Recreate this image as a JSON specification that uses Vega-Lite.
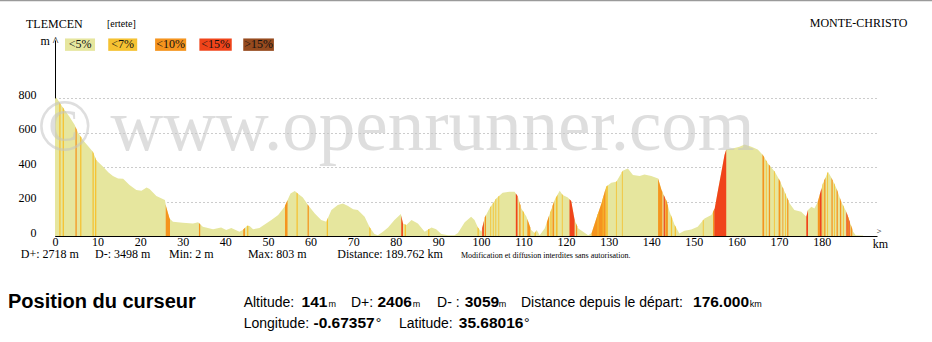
{
"$schema":"https://vega.github.io/schema/vega-lite/v6.json",
"autosize":{"type":"none"},
"padding":{"left":55,"top":40,"right":55,"bottom":106},
"width":822,"height":196,
"config":{"view":{"stroke":null},"font":"Liberation Serif"},
"encoding":{
  "x":{"field":"d","type":"quantitative","scale":{"domain":[0,193],"nice":false,"zero":false},
   "axis":{"values":[0,10,20,30,40,50,60,70,80,90,100,110,120,130,140,150,160,170,180],"title":null,"grid":false,"ticks":false,"domainColor":"#000","domainWidth":1,"labelFont":"Liberation Serif","labelFontSize":12,"labelColor":"#000","labelPadding":0,"labelFlush":false,"labelOverlap":false,"format":"d"}},
  "y":{"field":"e","type":"quantitative","stack":null,"scale":{"domain":[0,1137],"nice":false},
   "axis":{"values":[0,200,400,600,800],"title":"m ^","titleAngle":0,"titleAlign":"left","titleBaseline":"alphabetic","titleX":-15,"titleY":4,"titleFont":"Liberation Serif","titleFontSize":12,"titleFontWeight":"normal","titleColor":"#000","grid":true,"gridDash":[1,3],"gridColor":"#999","gridOpacity":1,"ticks":false,"domainColor":"#000","labelFont":"Liberation Serif","labelFontSize":12,"labelColor":"#000","labelPadding":19,"labelBaseline":"alphabetic","labelFlush":false,"format":"d"}}
},
"datasets":{
"profile":[{"d":0,"e":795},{"d":0.3,"e":803},{"d":1.1,"e":773},{"d":2.3,"e":730},{"d":3.4,"e":692},{"d":4.6,"e":645},{"d":5.4,"e":600},{"d":6.6,"e":556},{"d":7.8,"e":520},{"d":8.9,"e":489},{"d":9.7,"e":440},{"d":11.3,"e":402},{"d":12.5,"e":370},{"d":13.6,"e":348},{"d":14.8,"e":334},{"d":16.0,"e":332},{"d":17.5,"e":296},{"d":19.1,"e":267},{"d":20.3,"e":263},{"d":21.5,"e":282},{"d":22.2,"e":272},{"d":23.8,"e":232},{"d":25.8,"e":209},{"d":26.1,"e":170},{"d":26.9,"e":102},{"d":27.7,"e":83},{"d":30.0,"e":77},{"d":32.4,"e":73},{"d":33.6,"e":80},{"d":34.7,"e":54},{"d":37.1,"e":39},{"d":39.0,"e":50},{"d":40.2,"e":35},{"d":41.4,"e":46},{"d":43.3,"e":25},{"d":44.1,"e":35},{"d":45.1,"e":60},{"d":45.7,"e":58},{"d":46.5,"e":39},{"d":48.0,"e":46},{"d":50.8,"e":93},{"d":52.4,"e":122},{"d":53.9,"e":170},{"d":54.5,"e":203},{"d":55.3,"e":247},{"d":56.3,"e":261},{"d":57.0,"e":246},{"d":58.2,"e":224},{"d":59.4,"e":180},{"d":61.0,"e":131},{"d":62.5,"e":93},{"d":63.7,"e":83},{"d":64.9,"e":151},{"d":66.4,"e":180},{"d":67.6,"e":189},{"d":68.8,"e":174},{"d":70.0,"e":155},{"d":71.1,"e":151},{"d":72.7,"e":112},{"d":73.9,"e":50},{"d":75.0,"e":12},{"d":75.8,"e":5},{"d":77.0,"e":25},{"d":78.2,"e":50},{"d":79.7,"e":93},{"d":81.2,"e":128},{"d":81.7,"e":73},{"d":82.5,"e":64},{"d":83.7,"e":93},{"d":85.2,"e":73},{"d":86.8,"e":25},{"d":88.4,"e":50},{"d":89.5,"e":39},{"d":90.7,"e":12},{"d":92.3,"e":5},{"d":93.8,"e":5},{"d":94.6,"e":17},{"d":96.2,"e":80},{"d":97.7,"e":112},{"d":98.5,"e":93},{"d":99.3,"e":50},{"d":100.1,"e":25},{"d":100.9,"e":108},{"d":102.0,"e":160},{"d":103.6,"e":218},{"d":105.1,"e":251},{"d":106.7,"e":257},{"d":107.9,"e":257},{"d":108.7,"e":228},{"d":109.5,"e":160},{"d":110.7,"e":112},{"d":111.8,"e":35},{"d":112.6,"e":17},{"d":113.1,"e":35},{"d":113.8,"e":5},{"d":115.0,"e":45},{"d":116.2,"e":131},{"d":117.3,"e":209},{"d":118.5,"e":263},{"d":119.2,"e":238},{"d":120.4,"e":224},{"d":121.2,"e":203},{"d":122.0,"e":93},{"d":122.8,"e":45},{"d":124.0,"e":25},{"d":125.2,"e":5},{"d":126.0,"e":17},{"d":127.1,"e":102},{"d":128.3,"e":189},{"d":129.4,"e":286},{"d":130.6,"e":309},{"d":131.8,"e":315},{"d":133.3,"e":379},{"d":134.5,"e":392},{"d":135.7,"e":354},{"d":137.3,"e":348},{"d":138.4,"e":357},{"d":140.0,"e":348},{"d":141.6,"e":334},{"d":142.4,"e":267},{"d":143.6,"e":203},{"d":144.3,"e":141},{"d":145.5,"e":64},{"d":146.6,"e":15},{"d":147.8,"e":31},{"d":149.4,"e":37},{"d":150.9,"e":54},{"d":152.5,"e":102},{"d":154.1,"e":122},{"d":154.9,"e":160},{"d":155.6,"e":257},{"d":156.4,"e":363},{"d":157.2,"e":470},{"d":157.6,"e":502},{"d":159.1,"e":508},{"d":160.7,"e":518},{"d":161.9,"e":531},{"d":163.5,"e":518},{"d":165.0,"e":502},{"d":166.2,"e":470},{"d":167.4,"e":421},{"d":169.0,"e":373},{"d":170.1,"e":325},{"d":171.3,"e":257},{"d":172.5,"e":189},{"d":173.6,"e":151},{"d":175.2,"e":141},{"d":176.4,"e":112},{"d":176.8,"e":151},{"d":177.6,"e":170},{"d":178.3,"e":160},{"d":179.1,"e":199},{"d":180.3,"e":305},{"d":181.5,"e":373},{"d":182.3,"e":338},{"d":183.5,"e":276},{"d":184.6,"e":199},{"d":185.8,"e":141},{"d":186.6,"e":83},{"d":187.4,"e":25},{"d":188.0,"e":5},{"d":189.76,"e":3}],
"steep":[
{"s":1,"c":"<7%","d":1.0,"e":777},{"s":1,"c":"<7%","d":1.3,"e":766},
{"s":2,"c":"<7%","d":1.8,"e":748},{"s":2,"c":"<7%","d":2.1,"e":737},
{"s":3,"c":"<10%","d":4.8,"e":634},{"s":3,"c":"<10%","d":5.1,"e":617},
{"s":4,"c":"<7%","d":5.9,"e":582},{"s":4,"c":"<7%","d":6.2,"e":571},
{"s":5,"c":"<7%","d":8.8,"e":492},{"s":5,"c":"<7%","d":8.9,"e":489},{"s":5,"c":"<7%","d":9.1,"e":477},
{"s":6,"c":"<7%","d":9.4,"e":458},{"s":6,"c":"<7%","d":9.7,"e":440},
{"s":7,"c":"<10%","d":26.0,"e":183},{"s":7,"c":"<10%","d":26.1,"e":170},{"s":7,"c":"<10%","d":26.9,"e":102},{"s":7,"c":"<10%","d":27.0,"e":100},
{"s":8,"c":"<10%","d":33.8,"e":75},{"s":8,"c":"<10%","d":34.1,"e":68},
{"s":9,"c":"<10%","d":44.2,"e":38},{"s":9,"c":"<10%","d":44.6,"e":48},
{"s":10,"c":"<7%","d":45.1,"e":60},{"s":10,"c":"<7%","d":45.4,"e":59},
{"s":11,"c":"<10%","d":54.0,"e":175},{"s":11,"c":"<10%","d":54.5,"e":203},{"s":11,"c":"<10%","d":54.6,"e":208},
{"s":12,"c":"<7%","d":56.7,"e":252},{"s":12,"c":"<7%","d":57.0,"e":246},
{"s":13,"c":"<10%","d":59.3,"e":184},{"s":13,"c":"<10%","d":59.4,"e":180},{"s":13,"c":"<10%","d":59.6,"e":174},
{"s":14,"c":"<7%","d":63.8,"e":89},{"s":14,"c":"<7%","d":64.1,"e":106},
{"s":15,"c":"<7%","d":73.8,"e":55},{"s":15,"c":"<7%","d":73.9,"e":50},{"s":15,"c":"<7%","d":74.1,"e":43},
{"s":16,"c":"<15%","d":81.3,"e":117},{"s":16,"c":"<15%","d":81.7,"e":73},
{"s":17,"c":"<7%","d":82.1,"e":68},{"s":17,"c":"<7%","d":82.4,"e":65},
{"s":18,"c":"<7%","d":87.6,"e":37},{"s":18,"c":"<7%","d":87.9,"e":42},
{"s":19,"c":"<7%","d":99.2,"e":55},{"s":19,"c":"<7%","d":99.3,"e":50},{"s":19,"c":"<7%","d":99.5,"e":44},
{"s":20,"c":"<15%","d":100.3,"e":46},{"s":20,"c":"<15%","d":100.7,"e":87},
{"s":21,"c":"<10%","d":100.9,"e":108},{"s":21,"c":"<10%","d":101.2,"e":122},
{"s":22,"c":"<7%","d":102.2,"e":167},{"s":22,"c":"<7%","d":102.4,"e":174},
{"s":23,"c":"<7%","d":102.8,"e":189},{"s":23,"c":"<7%","d":103.0,"e":196},
{"s":24,"c":"<7%","d":103.4,"e":211},{"s":24,"c":"<7%","d":103.6,"e":218},
{"s":25,"c":"<7%","d":104.1,"e":229},{"s":25,"c":"<7%","d":104.3,"e":233},
{"s":26,"c":"<15%","d":108.2,"e":246},{"s":26,"c":"<15%","d":108.6,"e":232},
{"s":27,"c":"<10%","d":109.0,"e":202},{"s":27,"c":"<10%","d":109.3,"e":177},
{"s":28,"c":"<7%","d":109.8,"e":148},{"s":28,"c":"<7%","d":110.1,"e":136},
{"s":29,"c":"<10%","d":110.9,"e":98},{"s":29,"c":"<10%","d":111.6,"e":49},
{"s":30,"c":"<7%","d":112.6,"e":17},{"s":30,"c":"<7%","d":112.9,"e":28},
{"s":31,"c":"<10%","d":115.5,"e":81},{"s":31,"c":"<10%","d":116.0,"e":117},
{"s":32,"c":"<7%","d":116.3,"e":138},{"s":32,"c":"<7%","d":116.6,"e":159},
{"s":33,"c":"<10%","d":116.8,"e":174},{"s":33,"c":"<10%","d":117.2,"e":202},
{"s":34,"c":"<7%","d":117.6,"e":222},{"s":34,"c":"<7%","d":118.0,"e":240},
{"s":35,"c":"<7%","d":119.0,"e":245},{"s":35,"c":"<7%","d":119.2,"e":238},
{"s":36,"c":"<15%","d":120.8,"e":213},{"s":36,"c":"<15%","d":121.2,"e":203},{"s":36,"c":"<15%","d":122.0,"e":93},
{"s":37,"c":"<10%","d":122.3,"e":75},{"s":37,"c":"<10%","d":122.6,"e":57},
{"s":38,"c":"<10%","d":126.0,"e":17},{"s":38,"c":"<10%","d":127.1,"e":102},{"s":38,"c":"<10%","d":128.3,"e":189},{"s":38,"c":"<10%","d":129.3,"e":277},
{"s":39,"c":"<7%","d":127.4,"e":124},{"s":39,"c":"<7%","d":127.6,"e":138},
{"s":40,"c":"<7%","d":128.6,"e":215},{"s":40,"c":"<7%","d":128.8,"e":233},
{"s":41,"c":"<7%","d":129.4,"e":286},{"s":41,"c":"<7%","d":129.8,"e":294},
{"s":42,"c":"<7%","d":131.7,"e":314},{"s":42,"c":"<7%","d":131.9,"e":319},
{"s":43,"c":"<7%","d":133.1,"e":370},{"s":43,"c":"<7%","d":133.3,"e":379},
{"s":44,"c":"<10%","d":141.6,"e":334},{"s":44,"c":"<10%","d":142.4,"e":267},{"s":44,"c":"<10%","d":142.6,"e":256},
{"s":45,"c":"<15%","d":142.9,"e":240},{"s":45,"c":"<15%","d":143.2,"e":224},
{"s":46,"c":"<10%","d":143.3,"e":219},{"s":46,"c":"<10%","d":143.6,"e":203},{"s":46,"c":"<10%","d":143.9,"e":176},
{"s":47,"c":"<7%","d":144.6,"e":122},{"s":47,"c":"<7%","d":144.9,"e":102},
{"s":48,"c":"<7%","d":145.5,"e":64},{"s":48,"c":"<7%","d":145.8,"e":51},
{"s":49,"c":"<7%","d":152.1,"e":90},{"s":49,"c":"<7%","d":152.3,"e":96},
{"s":50,"c":"<10%","d":154.5,"e":141},{"s":50,"c":"<10%","d":154.8,"e":155},
{"s":51,"c":"<15%","d":154.8,"e":155},{"s":51,"c":"<15%","d":154.9,"e":160},{"s":51,"c":"<15%","d":155.6,"e":257},{"s":51,"c":"<15%","d":156.4,"e":363},{"s":51,"c":"<15%","d":157.2,"e":470},{"s":51,"c":"<15%","d":157.6,"e":502},
{"s":52,"c":"<10%","d":166.1,"e":475},{"s":52,"c":"<10%","d":166.2,"e":470},{"s":52,"c":"<10%","d":166.5,"e":458},
{"s":53,"c":"<7%","d":166.9,"e":441},{"s":53,"c":"<7%","d":167.1,"e":433},
{"s":54,"c":"<10%","d":167.6,"e":415},{"s":54,"c":"<10%","d":167.9,"e":406},
{"s":55,"c":"<7%","d":168.8,"e":379},{"s":55,"c":"<7%","d":169.0,"e":373},
{"s":56,"c":"<10%","d":169.9,"e":334},{"s":56,"c":"<10%","d":170.1,"e":325},{"s":56,"c":"<10%","d":170.3,"e":314},
{"s":57,"c":"<10%","d":170.8,"e":285},{"s":57,"c":"<10%","d":171.0,"e":274},
{"s":58,"c":"<7%","d":171.4,"e":251},{"s":58,"c":"<7%","d":171.6,"e":240},
{"s":59,"c":"<10%","d":171.9,"e":223},{"s":59,"c":"<10%","d":172.2,"e":206},
{"s":60,"c":"<15%","d":176.4,"e":112},{"s":60,"c":"<15%","d":176.8,"e":151},
{"s":61,"c":"<10%","d":179.1,"e":199},{"s":61,"c":"<10%","d":179.6,"e":243},
{"s":62,"c":"<15%","d":179.6,"e":243},{"s":62,"c":"<15%","d":180.0,"e":278},
{"s":63,"c":"<7%","d":180.2,"e":296},{"s":63,"c":"<7%","d":180.3,"e":305},{"s":63,"c":"<7%","d":180.4,"e":311},
{"s":64,"c":"<10%","d":180.6,"e":322},{"s":64,"c":"<10%","d":180.9,"e":339},
{"s":65,"c":"<7%","d":181.3,"e":362},{"s":65,"c":"<7%","d":181.5,"e":373},
{"s":66,"c":"<10%","d":182.3,"e":338},{"s":66,"c":"<10%","d":182.6,"e":322},
{"s":67,"c":"<7%","d":182.9,"e":307},{"s":67,"c":"<7%","d":183.1,"e":297},
{"s":68,"c":"<10%","d":183.5,"e":276},{"s":68,"c":"<10%","d":183.8,"e":255},
{"s":69,"c":"<10%","d":184.3,"e":220},{"s":69,"c":"<10%","d":184.6,"e":199},
{"s":70,"c":"<7%","d":185.0,"e":180},{"s":70,"c":"<7%","d":185.2,"e":170},
{"s":71,"c":"<15%","d":185.8,"e":141},{"s":71,"c":"<15%","d":186.6,"e":83},
{"s":72,"c":"<7%","d":186.1,"e":119},{"s":72,"c":"<7%","d":186.3,"e":105},
{"s":73,"c":"<10%","d":186.8,"e":68},{"s":73,"c":"<10%","d":187.2,"e":40}
],
"legendbox":[{"c":"<5%","d":2.35,"d2":9.4,"e":1146,"e2":1074},{"c":"<7%","d":12.5,"d2":19.3,"e":1146,"e2":1074},{"c":"<10%","d":23.5,"d2":30.8,"e":1146,"e2":1074},{"c":"<15%","d":33.9,"d2":41.5,"e":1146,"e2":1074},{"c":">15%","d":44.2,"d2":51.4,"e":1146,"e2":1074}],
"legendtext":[{"t":"<5%","d":5.9,"e":1088},{"t":"<7%","d":15.9,"e":1088},{"t":"<10%","d":27.15,"e":1088},{"t":"<15%","d":37.7,"e":1088},{"t":">15%","d":47.8,"e":1088}],
"serif":[{"t":"TLEMCEN","d":-6.8,"e":1206},{"t":"MONTE-CHRISTO","d":177.2,"e":1212},{"t":"D+: 2718 m","d":-8.05,"e":-130},{"t":"D-: 3498 m","d":9.39,"e":-130},{"t":"Min: 2 m","d":26.76,"e":-130},{"t":"Max: 803 m","d":45.3,"e":-130},{"t":"Distance: 189.762 km","d":66.27,"e":-130},{"t":"km","d":192.0,"e":-68}],
"arrow":[{"t":">","d":192.9,"e":9}],
"ertete":[{"t":"[ertete]","d":12.2,"e":1212}],
"notice":[{"t":"Modification et diffusion interdites sans autorisation.","d":95.3,"e":-130}],
"labels":[{"t":"Altitude:","d":44.3,"e":-412},{"t":"D+:","d":69.5,"e":-412},{"t":"D- :","d":89.7,"e":-412},{"t":"Distance depuis le départ:","d":109.4,"e":-412},{"t":"Longitude:","d":44.3,"e":-533},{"t":"Latitude:","d":80.75,"e":-533}],
"values":[{"t":"141","d":57.9,"e":-412},{"t":"2406","d":75.7,"e":-412},{"t":"3059","d":96.2,"e":-412},{"t":"176.000","d":149.8,"e":-412},{"t":"-0.67357","d":60.7,"e":-533},{"t":"35.68016","d":94.8,"e":-533}],
"units":[{"t":"m","d":64.2,"e":-412},{"t":"m","d":84.0,"e":-412},{"t":"m","d":104.2,"e":-412},{"t":"km","d":163.1,"e":-412}],
"degrees":[{"t":"°","d":75.3,"e":-533},{"t":"°","d":110.1,"e":-533}],
"heading":[{"t":"Position du curseur","d":-11.03,"e":-417}],
"mark":[{"t":"© www.openrunner.com","d":80,"e":498}],
"topline":[{"d":-13,"d2":206,"e":1368}]
},
"layer":[
{"data":{"name":"profile"},"mark":{"type":"area","color":"#e6e69e"}},
{"data":{"name":"steep"},"mark":{"type":"area"},
 "encoding":{
  "detail":{"field":"s","type":"nominal"},
  "color":{"field":"c","type":"nominal","scale":{"domain":["<5%","<7%","<10%","<15%",">15%"],"range":["#e6e69e","#f5c232","#f5941e","#f0441a","#964a1e"]},"legend":null}
 }},
{"data":{"name":"mark"},"mark":{"type":"text","font":"Liberation Serif","fontSize":73,"color":"#c4c4c4","opacity":0.55,"align":"center","baseline":"alphabetic"},
 "encoding":{"text":{"field":"t"}}},
{"data":{"name":"legendbox"},"mark":{"type":"rect"},
 "encoding":{
  "x2":{"field":"d2"},
  "y2":{"field":"e2"},
  "color":{"field":"c","type":"nominal","scale":{"domain":["<5%","<7%","<10%","<15%",">15%"],"range":["#e6e69e","#f5c232","#f5941e","#f0441a","#964a1e"]},"legend":null}
 }},
{"data":{"name":"legendtext"},"mark":{"type":"text","font":"Liberation Serif","fontSize":12,"color":"#111","align":"center","baseline":"alphabetic"},
 "encoding":{"text":{"field":"t"}}},
{"data":{"name":"serif"},"mark":{"type":"text","font":"Liberation Serif","fontSize":12,"color":"#000","align":"left","baseline":"alphabetic"},
 "encoding":{"text":{"field":"t"}}},
{"data":{"name":"arrow"},"mark":{"type":"text","font":"Liberation Serif","fontSize":9,"color":"#000","align":"left","baseline":"alphabetic"},
 "encoding":{"text":{"field":"t"}}},
{"data":{"name":"ertete"},"mark":{"type":"text","font":"Liberation Serif","fontSize":10,"color":"#000","align":"left","baseline":"alphabetic"},
 "encoding":{"text":{"field":"t"}}},
{"data":{"name":"notice"},"mark":{"type":"text","font":"Liberation Serif","fontSize":8,"color":"#000","align":"left","baseline":"alphabetic"},
 "encoding":{"text":{"field":"t"}}},
{"data":{"name":"heading"},"mark":{"type":"text","font":"Liberation Sans","fontSize":20,"fontWeight":"bold","color":"#000","align":"left","baseline":"alphabetic"},
 "encoding":{"text":{"field":"t"}}},
{"data":{"name":"labels"},"mark":{"type":"text","font":"Liberation Sans","fontSize":14,"color":"#000","align":"left","baseline":"alphabetic"},
 "encoding":{"text":{"field":"t"}}},
{"data":{"name":"values"},"mark":{"type":"text","font":"Liberation Sans","fontSize":15.5,"fontWeight":"bold","color":"#000","align":"left","baseline":"alphabetic"},
 "encoding":{"text":{"field":"t"}}},
{"data":{"name":"units"},"mark":{"type":"text","font":"Liberation Sans","fontSize":9,"color":"#000","align":"left","baseline":"alphabetic"},
 "encoding":{"text":{"field":"t"}}},
{"data":{"name":"degrees"},"mark":{"type":"text","font":"Liberation Sans","fontSize":14,"color":"#000","align":"left","baseline":"alphabetic"},
 "encoding":{"text":{"field":"t"}}},
{"data":{"name":"topline"},"mark":{"type":"rule","color":"#9a9a9a","strokeWidth":2},
 "encoding":{"x2":{"field":"d2"}}}
]
}
